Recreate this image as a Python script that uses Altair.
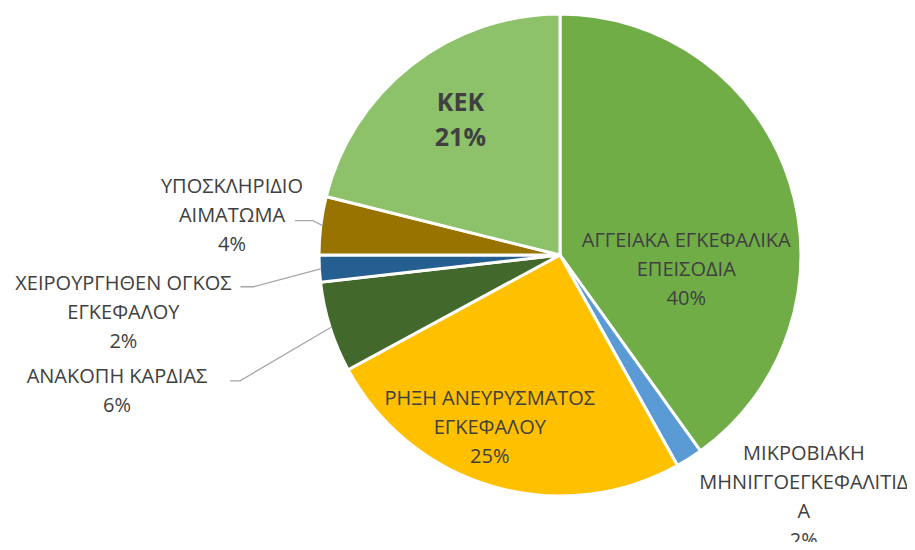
import math
import altair as alt
import pandas as pd

# ---- data ----
categories = [
    "ΑΓΓΕΙΑΚΑ ΕΓΚΕΦΑΛΙΚΑ ΕΠΕΙΣΟΔΙΑ",
    "ΜΙΚΡΟΒΙΑΚΗ ΜΗΝΙΓΓΟΕΓΚΕΦΑΛΙΤΙΔΑ",
    "ΡΗΞΗ ΑΝΕΥΡΥΣΜΑΤΟΣ ΕΓΚΕΦΑΛΟΥ",
    "ΑΝΑΚΟΠΗ ΚΑΡΔΙΑΣ",
    "ΧΕΙΡΟΥΡΓΗΘΕΝ ΟΓΚΟΣ ΕΓΚΕΦΑΛΟΥ",
    "ΥΠΟΣΚΛΗΡΙΔΙΟ ΑΙΜΑΤΩΜΑ",
    "ΚΕΚ",
]
label_text = [
    "ΑΓΓΕΙΑΚΑ ΕΓΚΕΦΑΛΙΚΑ\nΕΠΕΙΣΟΔΙΑ",
    "ΜΙΚΡΟΒΙΑΚΗ\nΜΗΝΙΓΓΟΕΓΚΕΦΑΛΙΤΙΔ\nΑ",
    "ΡΗΞΗ ΑΝΕΥΡΥΣΜΑΤΟΣ\nΕΓΚΕΦΑΛΟΥ",
    "ΑΝΑΚΟΠΗ ΚΑΡΔΙΑΣ",
    "ΧΕΙΡΟΥΡΓΗΘΕΝ ΟΓΚΟΣ\nΕΓΚΕΦΑΛΟΥ",
    "ΥΠΟΣΚΛΗΡΙΔΙΟ\nΑΙΜΑΤΩΜΑ",
    "ΚΕΚ",
]
values = [40.1, 1.8, 25.2, 6.1, 1.8, 3.9, 21.1]
colors = ["#70AD47", "#5B9BD5", "#FFC000", "#43682B", "#255E91", "#997300", "#8DC16A"]

# ---- layout (styling) ----
W, H = 899, 534
CX, CY, R = 552, 247, 241
LH, LH_B = 29, 35
# per label: radius of anchor, dx, dy (pixels) -> block centre
label_place = [
    (132.6, 0, 56),
    (289, 89, -2),
    (180, -20, 0),
    (261, -194, 58),
    (261, -176, 43),
    (261, -69, -7),
    (170, 5, -1),
]
# leader lines: (start offset, elbow offset) from label block centre, or None
leaders = [None, None, None,
           ((113, -10.5), (123, -10.5)),
           ((117, -26), (130, -26)),
           ((63, 4.5), (81, 4.5)),
           None]

total = sum(values)
rows, lab_rows, line_rows = [], [], []
cum = 0.0
for i, (c, v) in enumerate(zip(categories, values)):
    mid = (cum + v / 2) / total * 2 * math.pi
    cum += v
    rows.append({"cat": c, "value": v, "idx": i})
    r, dx, dy = label_place[i]
    lx = CX + r * math.sin(mid) + dx
    ly = CY - r * math.cos(mid) + dy
    pct = f"{round(v / total * 100)}%"
    txt = label_text[i] + "\n" + pct
    n = txt.count("\n") + 1
    is_bold = c == "ΚΕΚ"
    lh = LH_B if is_bold else LH
    lab_rows.append({"cat": c, "txt": txt, "x": lx, "y": ly - (n - 1) * lh / 2,
                     "bold": is_bold})
    if leaders[i] is not None:
        (sx, sy), (ex, ey) = leaders[i]
        ax = CX + (R - 2) * math.sin(mid)
        ay = CY - (R - 2) * math.cos(mid)
        pts = [(lx + sx, ly + sy), (lx + ex, ly + ey), (ax, ay)]
        for k, (px, py) in enumerate(pts):
            line_rows.append({"cat": c, "k": k, "x": px, "y": py})

df = pd.DataFrame(rows)
lab = pd.DataFrame(lab_rows)
lines = pd.DataFrame(line_rows)

FONT = "Open Sans"

pie = alt.Chart(df).mark_arc(radius=R, stroke="white", strokeWidth=3).encode(
    theta=alt.Theta("value:Q", stack=True),
    order=alt.Order("idx:Q"),
    color=alt.Color("cat:N", scale=alt.Scale(domain=categories, range=colors), legend=None),
    x=alt.value(CX),
    y=alt.value(CY),
)

normal = alt.Chart(lab[~lab["bold"]]).mark_text(
    font=FONT, fontSize=20, color="#404040", lineBreak="\n", lineHeight=LH,
    align="center", baseline="middle",
).encode(
    x=alt.X("x:Q", scale=None), y=alt.Y("y:Q", scale=None), text="txt:N"
)

bold = alt.Chart(lab[lab["bold"]]).mark_text(
    font=FONT, fontSize=25, fontWeight="bold", color="#404040", lineBreak="\n", lineHeight=LH_B,
    align="center", baseline="middle",
).encode(
    x=alt.X("x:Q", scale=None), y=alt.Y("y:Q", scale=None), text="txt:N"
)

lead = alt.Chart(lines).mark_line(color="#A6A6A6", strokeWidth=1.3).encode(
    x=alt.X("x:Q", scale=None), y=alt.Y("y:Q", scale=None),
    detail="cat:N", order="k:Q",
)

chart = alt.layer(pie, lead, normal, bold).properties(
    width=W, height=H, autosize="none", padding=0
).configure_view(stroke=None)

chart.save("out.html", embed_options={"renderer": "svg", "actions": False})
